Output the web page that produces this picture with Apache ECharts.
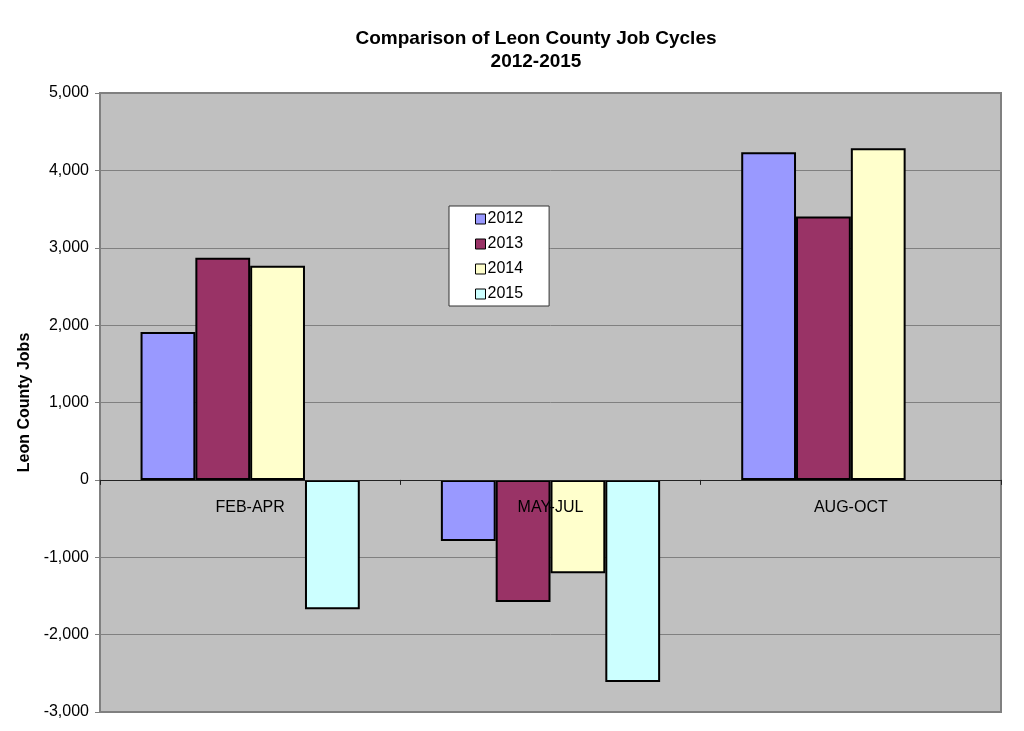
<!DOCTYPE html>
<html>
<head>
<meta charset="utf-8">
<script src="https://cdn.jsdelivr.net/npm/echarts@6/dist/echarts.min.js"></script>
<style>html,body{margin:0;padding:0;background:#fff;}#c{width:1024px;height:731px;}</style>
</head>
<body>
<div id="c"></div>
<script>
const categories = ['FEB-APR', 'MAY-JUL', 'AUG-OCT'];
const seriesNames = ['2012', '2013', '2014', '2015'];
const v2012 = [1910, -790, 4235];
const v2013 = [2870, -1577, 3403];
const v2014 = [2766, -1206, 4287];
const v2015 = [-1671, -2611, null];
const colors = ['#9999FF', '#993366', '#FFFFCC', '#CCFFFF'];
const yTicks = {min: -3000, max: 5000, interval: 1000};

const font = 'Liberation Sans, Arial, sans-serif';
const gridTop = 93, gridBottom = 19, chartH = 731;
const plotH = chartH - gridTop - gridBottom;
// distance from plot bottom up to the value 0 line, derived from the y scale
const zeroOffset = plotH * (0 - yTicks.min) / (yTicks.max - yTicks.min);

const chart = echarts.init(document.getElementById('c'), null, {renderer: 'canvas'});
const values = [v2012, v2013, v2014, v2015];
chart.setOption({
  animation: false,
  backgroundColor: '#ffffff',
  title: {
    text: 'Comparison of Leon County Job Cycles\n2012-2015',
    left: 531, top: 22, textAlign: 'center',
    textStyle: {fontFamily: font, fontSize: 19, fontWeight: 'bold', color: '#000', lineHeight: 23}
  },
  legend: {
    orient: 'vertical', left: 449, top: 206,
    data: seriesNames,
    backgroundColor: '#ffffff', borderColor: '#333', borderWidth: 1,
    padding: [4, 26, 3, 26],
    itemWidth: 10, itemHeight: 10, itemGap: 7,
    icon: 'rect',
    itemStyle: {borderColor: '#000', borderWidth: 1},
    textStyle: {fontFamily: font, fontSize: 16, color: '#000', lineHeight: 18, padding: [0, 0, 0, -3]}
  },
  grid: {
    left: 100, right: 23, top: gridTop, bottom: gridBottom,
    outerBoundsMode: 'none', containLabel: false,
    show: true, backgroundColor: '#C0C0C0', borderColor: '#808080', borderWidth: 2
  },
  xAxis: {
    type: 'category', data: categories, position: 'bottom',
    offset: -zeroOffset, z: 10,
    axisLine: {onZero: false, lineStyle: {color: '#222', width: 1}},
    axisTick: {show: true, length: 5, lineStyle: {color: '#222'}},
    axisLabel: {margin: 20, fontFamily: font, fontSize: 16, color: '#000'},
    splitLine: {show: false}
  },
  yAxis: {
    type: 'value', min: yTicks.min, max: yTicks.max, interval: yTicks.interval,
    name: 'Leon County Jobs', nameLocation: 'middle', nameGap: 62, nameRotate: 90,
    nameTextStyle: {fontFamily: font, fontSize: 16, fontWeight: 'bold', color: '#000'},
    axisLine: {show: true, lineStyle: {color: '#808080', width: 2}},
    axisTick: {show: true, inside: false, length: 5, lineStyle: {color: '#808080'}},
    axisLabel: {fontFamily: font, fontSize: 16, color: '#000', margin: 11,
      formatter: v => v.toLocaleString('en-US')},
    splitLine: {show: true, lineStyle: {color: '#808080', width: 1}}
  },
  series: seriesNames.map((n, i) => ({
    name: n, type: 'bar', data: values[i],
    barGap: '0%', barCategoryGap: '27%',
    itemStyle: {color: colors[i], borderColor: '#000', borderWidth: 2}
  }))
});
</script>
</body>
</html>
